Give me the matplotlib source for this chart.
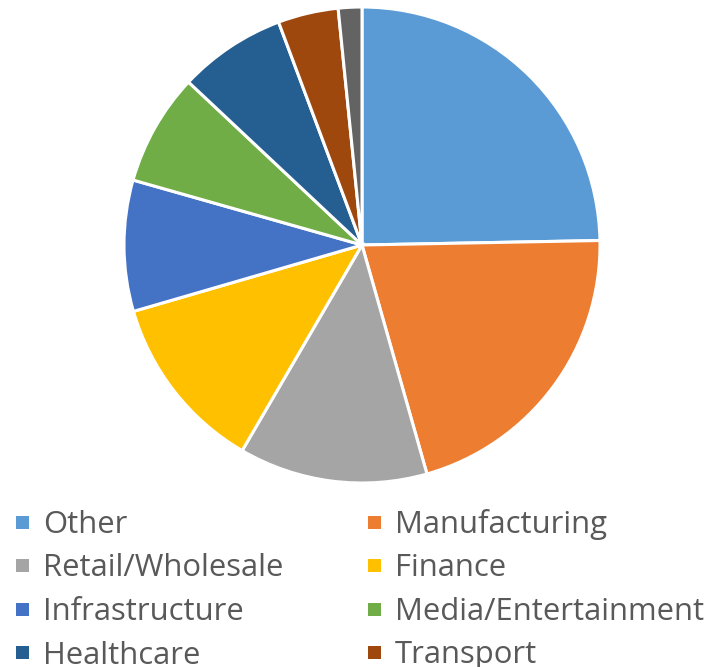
import matplotlib
matplotlib.use("Agg")
import matplotlib.pyplot as plt
from matplotlib.patches import Rectangle

# Share of companies by industry sector (%)
sectors = ["Other", "Manufacturing", "Retail/Wholesale", "Finance", "Infrastructure",
           "Media/Entertainment", "Healthcare", "Transport", "Education"]
shares = [24.7, 20.9, 12.8, 12.1, 8.9, 7.6, 7.3, 4.1, 1.6]
colors = ["#5B9BD5", "#ED7D31", "#A5A5A5", "#FFC000", "#4472C4",
          "#70AD47", "#255E91", "#9E480E", "#636363"]

W, H = 708, 667
fig = plt.figure(figsize=(W / 100, H / 100), dpi=100)

cx, cy, r = 362, 245, 238
ax = fig.add_axes([(cx - r) / W, 1 - (cy + r) / H, 2 * r / W, 2 * r / H])
ax.pie(shares, colors=colors, startangle=90, counterclock=False,
       wedgeprops=dict(edgecolor="white", linewidth=2.2))
ax.set_xlim(-1, 1)
ax.set_ylim(-1, 1)
ax.set_aspect("equal")
ax.axis("off")

# Two-column legend, filled row by row
col_marker_x = [16, 368]
col_text_x = [43, 395]
row0_y, row_gap = 533, 43.5   # baseline of the first row, in pixels from the top
sq = 13
for i, (name, col) in enumerate(zip(sectors, colors)):
    row, c = divmod(i, 2)
    base = row0_y + row * row_gap
    mid = base - 11
    fig.patches.append(Rectangle((col_marker_x[c] / W, 1 - (mid + sq / 2) / H),
                                 sq / W, sq / H, transform=fig.transFigure,
                                 facecolor=col, edgecolor="none"))
    fig.text(col_text_x[c] / W, 1 - base / H, name, ha="left", va="baseline",
             fontsize=22.3, color="#595959", family="Open Sans")

fig.savefig("out.png", dpi=100)
